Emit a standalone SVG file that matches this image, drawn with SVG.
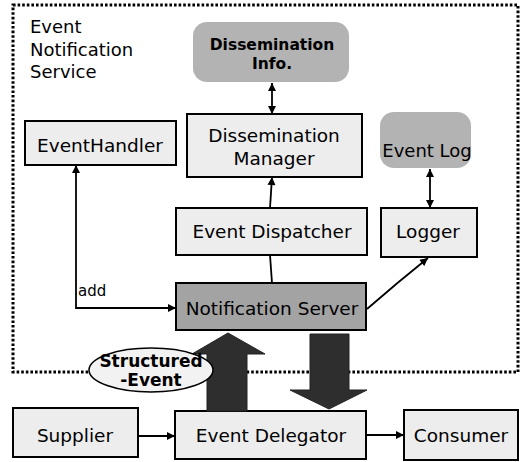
<svg xmlns="http://www.w3.org/2000/svg" width="522" height="462" viewBox="0 0 522 462">
<style>
text{font-family:"DejaVu Sans","Liberation Sans",sans-serif;fill:#000}
.lbl{font-size:18.5px;text-anchor:middle}
.box{fill:#ededed;stroke:#000;stroke-width:2}
.cloud{fill:#b3b3b3;stroke:none}
.bold{font-weight:bold;text-anchor:middle}
.conn{stroke:#000;stroke-width:1.8;fill:none}
.big{fill:#2e2e2e;stroke:#222;stroke-width:1}
</style>
<defs>
<marker id="ah" viewBox="0 0 10 10" refX="10" refY="5" markerWidth="9" markerHeight="8" markerUnits="userSpaceOnUse" orient="auto-start-reverse">
<path d="M0,0 L10,5 L0,10 z" fill="#000"/>
</marker>
</defs>
<rect width="522" height="462" fill="#fff"/>
<g id="ens-boundary">
<rect x="13" y="5" width="505" height="367" fill="none" stroke="#000" stroke-width="3" stroke-dasharray="2.6 2"/>
<text x="30" y="33" style="font-size:18px">Event</text>
<text x="30" y="56" style="font-size:18px">Notification</text>
<text x="30" y="78" style="font-size:18px">Service</text>
</g>
<g id="dissemination-info">
<rect class="cloud" x="193" y="22" width="156" height="60" rx="14"/>
<text class="bold" x="272" y="50" style="font-size:15.5px">Dissemination</text>
<text class="bold" x="272" y="69" style="font-size:15.5px">Info.</text>
</g>
<g id="event-log">
<rect class="cloud" x="380" y="112" width="91" height="56" rx="14"/>
<text class="lbl" x="427" y="157" style="font-size:18px">Event Log</text>
</g>
<g id="event-handler">
<rect class="box" x="25" y="121" width="151" height="44"/>
<text class="lbl" x="100" y="152">EventHandler</text>
</g>
<g id="dissemination-manager">
<rect class="box" x="187" y="114" width="175" height="63"/>
<text class="lbl" x="274" y="142">Dissemination</text>
<text class="lbl" x="274" y="165">Manager</text>
</g>
<g id="event-dispatcher">
<rect class="box" x="176" y="208" width="191" height="47"/>
<text class="lbl" x="272" y="238">Event Dispatcher</text>
</g>
<g id="logger">
<rect class="box" x="381" y="208" width="96" height="49"/>
<text class="lbl" x="428" y="238">Logger</text>
</g>
<g id="notification-server">
<rect x="176" y="283" width="190" height="47" fill="#a3a3a3" stroke="#000" stroke-width="2"/>
<text class="lbl" x="272" y="315">Notification Server</text>
</g>
<g id="supplier">
<rect class="box" x="13" y="408" width="125" height="49"/>
<text class="lbl" x="75" y="442">Supplier</text>
</g>
<g id="event-delegator">
<rect class="box" x="175" y="411" width="191" height="48"/>
<text class="lbl" x="271" y="442">Event Delegator</text>
</g>
<g id="consumer">
<rect class="box" x="404" y="410" width="114" height="50"/>
<text class="lbl" x="461" y="442">Consumer</text>
</g>
<g id="connectors">
<line class="conn" x1="272" y1="83" x2="272" y2="114" marker-start="url(#ah)" marker-end="url(#ah)"/>
<line class="conn" x1="430" y1="169" x2="430" y2="208" marker-start="url(#ah)" marker-end="url(#ah)"/>
<line class="conn" x1="270" y1="208" x2="272" y2="177" marker-end="url(#ah)"/>
<line class="conn" x1="272" y1="283" x2="270" y2="255"/>
<path class="conn" d="M176,308 H76 V165" marker-start="url(#ah)" marker-end="url(#ah)"/>
<text x="78" y="296" style="font-size:15px">add</text>
<path class="conn" d="M367,309 Q398,282 428,258" marker-end="url(#ah)"/>
<line class="conn" x1="138" y1="436" x2="175" y2="436" marker-end="url(#ah)"/>
<line class="conn" x1="366" y1="435" x2="404" y2="435" marker-end="url(#ah)"/>
<polygon class="big" points="228,333 265,354 247,354 247,411 207,411 207,354 192,354"/>
<polygon class="big" points="310,334 349,334 349,390 367,390 329,409 290,390 310,390"/>
</g>
<g id="structured-event">
<ellipse cx="151" cy="370" rx="62" ry="22" fill="#f2f2f2" stroke="#000" stroke-width="1.5"/>
<text class="bold" x="151" y="367" style="font-size:17px">Structured</text>
<text class="bold" x="151" y="386" style="font-size:17px">-Event</text>
</g>
</svg>
